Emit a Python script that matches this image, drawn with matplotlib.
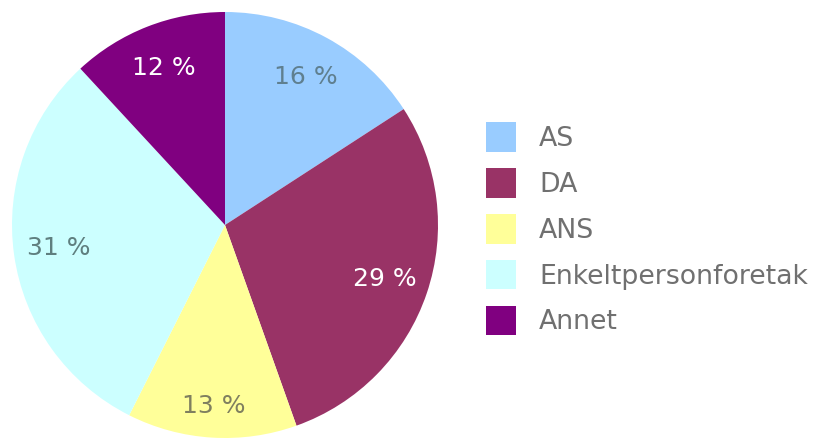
import matplotlib.pyplot as plt

# data
categories = ['AS', 'DA', 'ANS', 'Enkeltpersonforetak', 'Annet']
shares = [16, 29, 13, 31, 12]
colors = ['#99ccff', '#993366', '#ffff99', '#ccffff', '#800080']
label_colors = ['#5f7f8f', 'white', '#7f7f5f', '#5f7f7f', 'white']

fig = plt.figure(figsize=(8.19, 4.38), dpi=100)
ax = fig.add_axes([12 / 819, 0, 426 / 819, 426 / 438])

wedges, texts = ax.pie(shares, colors=colors, startangle=90, counterclock=False,
                       labels=['%d %%' % v for v in shares], labeldistance=0.79,
                       textprops=dict(fontsize=18))
for t, c in zip(texts, label_colors):
    t.set_color(c)
    t.set_ha('center')
    t.set_va('center')
# the small bottom slice has its label pushed further out
x, y = texts[2].get_position()
texts[2].set_position((x * 1.08, y * 1.08))
ax.set_xlim(-1.0, 1.0)
ax.set_ylim(-1.0, 1.0)

leg = fig.legend(wedges, categories, loc='upper left', bbox_to_anchor=(486 / 819, 1 - 122 / 438),
                 frameon=False, fontsize=19.3, handlelength=1.12, handleheight=1.33,
                 labelspacing=0.6, handletextpad=0.86, borderpad=0, borderaxespad=0,
                 labelcolor='#707070')

fig.savefig('out.png', dpi=100)
